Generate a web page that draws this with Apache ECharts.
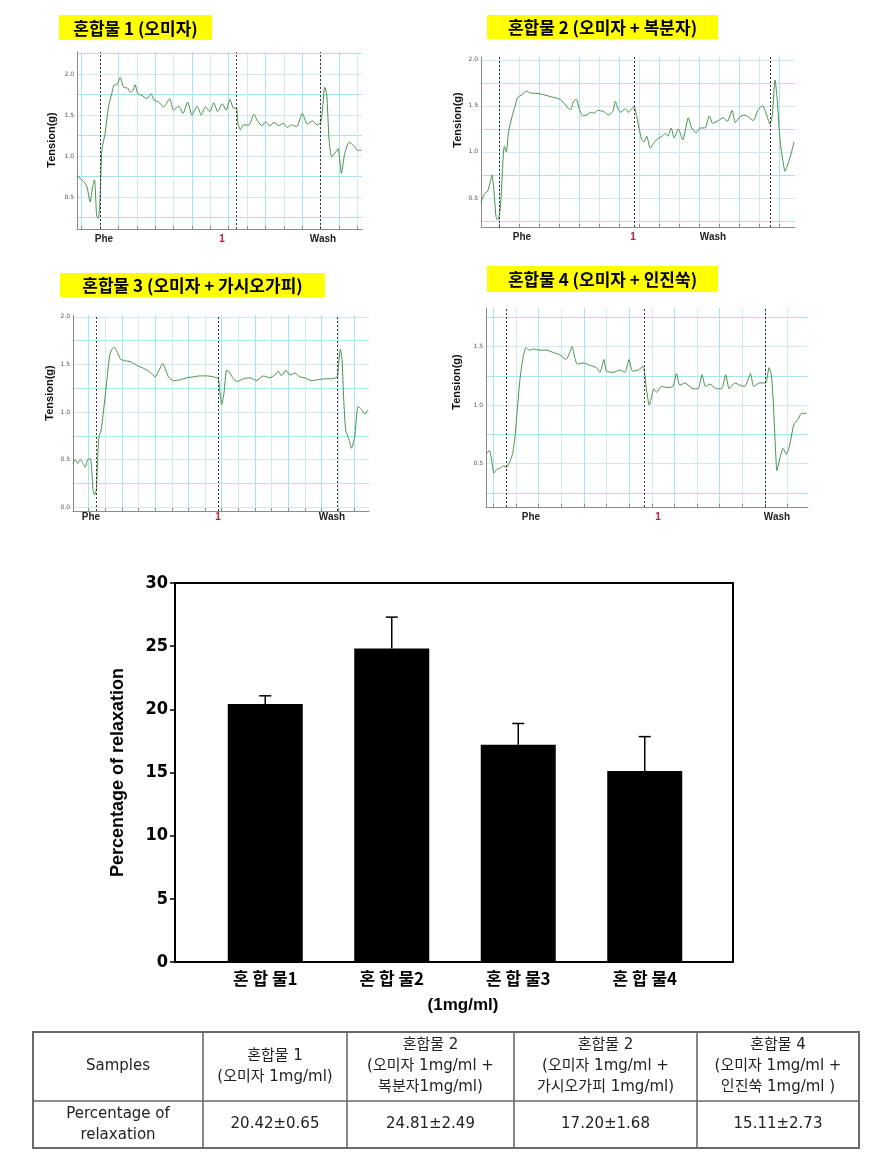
<!DOCTYPE html>
<html><head><meta charset="utf-8">
<script src="https://cdn.jsdelivr.net/npm/echarts@6/dist/echarts.min.js"></script>
<style>html,body{margin:0;padding:0;background:#fff}#c{width:883px;height:1173px}</style>
</head><body><div id="c"></div>
<script>
// ---------------- DATA ----------------
const traceTitles = ['혼합물 1 (오미자)', '혼합물 2 (오미자 + 복분자)', '혼합물 3 (오미자 + 가시오가피)', '혼합물 4 (오미자 + 인진쑥)'];
const eventLabels = ['Phe', '1', 'Wash'];
const tensionName = 'Tension(g)';

const trace1 = [[0,0.77],[0.25,0.71],[0.44,0.67],[0.56,0.61],[0.71,0.44],[0.85,0.63],[0.95,0.71],[1.07,0.27],[1.16,0.24],[1.25,0.46],[1.35,1.07],[1.53,1.28],[1.71,1.60],[1.89,1.76],[2.02,1.87],[2.16,1.87],[2.35,1.96],[2.53,1.84],[2.75,1.83],[2.89,1.78],[3.04,1.80],[3.16,1.87],[3.31,1.76],[3.53,1.74],[3.80,1.70],[4.02,1.76],[4.20,1.68],[4.44,1.66],[4.71,1.60],[5.04,1.70],[5.25,1.56],[5.53,1.61],[5.76,1.52],[6.02,1.66],[6.25,1.50],[6.53,1.61],[6.76,1.50],[6.98,1.60],[7.22,1.54],[7.44,1.65],[7.65,1.54],[7.89,1.64],[8.11,1.56],[8.31,1.69],[8.53,1.58],[8.67,1.59],[8.75,1.40],[8.89,1.32],[9.04,1.38],[9.35,1.38],[9.62,1.51],[9.84,1.42],[10.07,1.37],[10.25,1.42],[10.49,1.37],[10.71,1.41],[10.98,1.37],[11.20,1.40],[11.44,1.35],[11.65,1.38],[11.95,1.36],[12.25,1.52],[12.53,1.39],[12.80,1.43],[13.07,1.38],[13.25,1.41],[13.35,1.56],[13.47,1.84],[13.58,1.76],[13.71,1.20],[13.85,0.99],[14.07,1.05],[14.20,1.09],[14.38,0.79],[14.56,1.03],[14.80,1.17],[15.04,1.13],[15.25,1.07],[15.47,1.07]];
const trace2 = [[0,0.45],[0.10,0.51],[0.22,0.56],[0.33,0.57],[0.47,0.68],[0.55,0.75],[0.63,0.62],[0.75,0.30],[0.83,0.26],[0.93,0.33],[1.00,0.48],[1.10,0.91],[1.17,1.06],[1.27,1.00],[1.38,1.22],[1.55,1.38],[1.72,1.51],[1.83,1.59],[2.05,1.62],[2.27,1.66],[2.47,1.64],[2.97,1.63],[3.47,1.60],[3.97,1.57],[4.38,1.47],[4.50,1.46],[4.63,1.55],[4.77,1.57],[4.93,1.46],[5.10,1.39],[5.30,1.40],[5.50,1.43],[5.67,1.42],[5.83,1.45],[6.13,1.44],[6.38,1.40],[6.60,1.44],[6.73,1.55],[6.85,1.47],[7.00,1.43],[7.22,1.47],[7.38,1.43],[7.55,1.47],[7.67,1.49],[7.80,1.38],[7.93,1.24],[8.05,1.13],[8.17,1.11],[8.30,1.17],[8.47,1.04],[8.63,1.09],[8.83,1.14],[9.05,1.17],[9.22,1.20],[9.35,1.17],[9.52,1.26],[9.67,1.15],[9.88,1.25],[10.10,1.13],[10.38,1.37],[10.55,1.26],[10.77,1.21],[10.97,1.26],[11.22,1.26],[11.43,1.39],[11.60,1.31],[11.88,1.34],[12.13,1.37],[12.33,1.33],[12.57,1.45],[12.73,1.32],[12.97,1.38],[13.17,1.40],[13.38,1.38],[13.63,1.34],[13.88,1.46],[14.10,1.50],[14.30,1.40],[14.47,1.30],[14.58,1.40],[14.72,1.78],[14.83,1.57],[14.97,1.13],[15.13,0.88],[15.22,0.79],[15.38,0.88],[15.55,1.00],[15.67,1.11]];
const trace3 = [[0,0.46],[0.14,0.50],[0.28,0.46],[0.44,0.50],[0.60,0.46],[0.74,0.42],[0.88,0.50],[1.04,0.51],[1.14,0.36],[1.20,0.18],[1.30,0.13],[1.40,0.18],[1.48,0.50],[1.56,0.74],[1.68,0.80],[1.84,1.02],[2.04,1.34],[2.20,1.59],[2.34,1.66],[2.48,1.68],[2.64,1.64],[2.84,1.56],[3.08,1.54],[3.44,1.53],[3.84,1.49],[4.24,1.46],[4.64,1.42],[4.94,1.37],[5.20,1.45],[5.40,1.51],[5.54,1.46],[5.74,1.37],[6.04,1.33],[6.44,1.34],[6.84,1.36],[7.24,1.37],[7.64,1.38],[8.04,1.38],[8.44,1.37],[8.74,1.35],[8.84,1.20],[8.94,1.08],[9.08,1.20],[9.24,1.44],[9.44,1.41],[9.64,1.35],[9.88,1.32],[10.24,1.35],[10.64,1.36],[11.04,1.33],[11.44,1.38],[11.84,1.36],[12.14,1.39],[12.34,1.43],[12.54,1.38],[12.80,1.44],[13.04,1.39],[13.34,1.41],[13.64,1.37],[13.94,1.36],[14.34,1.33],[14.74,1.34],[15.14,1.35],[15.54,1.35],[15.88,1.37],[15.96,1.49],[16.08,1.66],[16.18,1.55],[16.28,1.13],[16.40,0.81],[16.60,0.71],[16.74,0.62],[16.94,0.74],[17.14,1.06],[17.34,1.03],[17.54,0.98],[17.74,1.02]];
const trace4 = [[0.03,0.59],[0.15,0.61],[0.25,0.53],[0.35,0.42],[0.47,0.45],[0.62,0.46],[0.76,0.48],[0.91,0.47],[1.06,0.52],[1.18,0.59],[1.28,0.73],[1.38,0.96],[1.50,1.22],[1.62,1.39],[1.76,1.49],[1.91,1.47],[2.09,1.48],[2.38,1.47],[2.68,1.47],[2.97,1.45],[3.26,1.43],[3.53,1.39],[3.68,1.44],[3.79,1.50],[3.93,1.40],[4.03,1.35],[4.29,1.36],[4.59,1.34],[4.88,1.32],[5.03,1.28],[5.21,1.39],[5.32,1.29],[5.62,1.28],[5.91,1.30],[6.13,1.28],[6.32,1.39],[6.47,1.29],[6.72,1.30],[6.94,1.33],[7.01,1.26],[7.09,1.13],[7.21,1.00],[7.31,1.07],[7.41,1.14],[7.53,1.11],[7.75,1.16],[8.04,1.15],[8.26,1.16],[8.41,1.27],[8.56,1.17],[8.78,1.19],[9.15,1.14],[9.37,1.14],[9.54,1.26],[9.69,1.16],[9.88,1.18],[10.18,1.14],[10.40,1.14],[10.59,1.26],[10.74,1.14],[10.99,1.19],[11.21,1.17],[11.43,1.16],[11.68,1.27],[11.82,1.16],[12.09,1.19],[12.35,1.19],[12.50,1.32],[12.60,1.26],[12.68,1.05],[12.76,0.73],[12.85,0.44],[12.97,0.54],[13.12,0.63],[13.26,0.58],[13.41,0.66],[13.59,0.83],[13.78,0.88],[13.93,0.93],[14.15,0.93]];

const events1 = [1.25, 8.65, 13.25];
const events2 = [0.93, 7.68, 14.5];
const events3 = [1.38, 8.74, 15.88];
const events4 = [0.91, 6.99, 12.34];

const yLabels1 = [0.5, 1.0, 1.5, 2.0];
const yLabels2 = [0.5, 1.0, 1.5, 2.0];
const yLabels3 = [0.0, 0.5, 1.0, 1.5, 2.0];
const yLabels4 = [0.5, 1.0, 1.5];

const barCategories = ['혼 합 물1', '혼 합 물2', '혼 합 물3', '혼 합 물4'];
const relaxMean = [20.42, 24.81, 17.20, 15.11];
const relaxErr = [0.65, 2.49, 1.68, 2.73];
const barYTicks = [0, 5, 10, 15, 20, 25, 30];
const barYName = 'Percentage of relaxation';
const barXName = '(1mg/ml)';

const tableRowNames = ['Samples', 'Percentage of\nrelaxation'];
const tableHeaders = ['혼합물 1\n(오미자 1mg/ml)', '혼합물 2\n(오미자 1mg/ml +\n복분자1mg/ml)', '혼합물 2\n(오미자 1mg/ml +\n가시오가피 1mg/ml)', '혼합물 4\n(오미자 1mg/ml +\n인진쑥 1mg/ml )'];

// ---------------- LAYOUT ----------------
const panels = [
  {data: trace1, events: events1, yLabels: yLabels1, box: [77, 52, 285, 177], yMin: 0.11, yMax: 2.27, xMax: 15.5, xOff: 0.25,
   titleBox: [59, 15, 153, 25], nameXY: [52, 140], labelY: 239, labelX: [104, 222, 323]},
  {data: trace2, events: events2, yLabels: yLabels2, box: [481, 57, 314, 170], yMin: 0.185, yMax: 2.03, xMax: 15.72, xOff: 0.93,
   titleBox: [487, 15, 231, 24], nameXY: [458, 120], labelY: 237, labelX: [522, 633, 713]},
  {data: trace3, events: events3, yLabels: yLabels3, box: [73, 315, 296, 196], yMin: -0.04, yMax: 2.02, xMax: 17.8, xOff: 0.94,
   titleBox: [60, 273, 265, 24], nameXY: [50, 393], labelY: 517, labelX: [91, 218, 332]},
  {data: trace4, events: events4, yLabels: yLabels4, box: [486, 308, 322, 199], yMin: 0.13, yMax: 1.83, xMax: 14.22, xOff: 0.32,
   titleBox: [487, 266, 231, 26], nameXY: [457, 382], labelY: 517, labelX: [531, 658, 777]}
];

const BRIGHT = '#a6e6ee', LIGHT = '#d3e9ee';
function steps(start, end, step) { const a = []; for (let k = 0; start + k * step <= end + 1e-9; k++) a.push(+(start + k * step).toFixed(4)); return a; }

const grids = [], xAxes = [], yAxes = [], series = [], graphics = [];

panels.forEach((p, i) => {
  grids.push({left: p.box[0], top: p.box[1], width: p.box[2], height: p.box[3]});
  const yStart = Math.ceil(p.yMin / 0.25 - 1e-6) * 0.25;
  const yGrid = steps(yStart, p.yMax, 0.25);
  const firstHalf = Math.abs(yGrid[0] / 0.5 - Math.round(yGrid[0] / 0.5)) < 1e-6;
  const xGrid = steps(p.xOff, p.xMax, 1);
  xAxes.push({
    type: 'value', gridIndex: i, min: 0, max: p.xMax,
    axisLine: {show: true, onZero: false, lineStyle: {color: '#8c8c8c', width: 1}},
    axisTick: {show: true, inside: true, length: 3, customValues: xGrid, lineStyle: {color: '#8c8c8c'}},
    axisLabel: {show: false},
    splitLine: {show: true, lineStyle: {color: [BRIGHT, LIGHT], width: 1}}
  });
  yAxes.push({
    type: 'value', gridIndex: i, min: p.yMin, max: p.yMax,
    axisLine: {show: true, onZero: false, lineStyle: {color: '#8c8c8c', width: 1}},
    axisTick: {show: true, length: 0, customValues: yGrid},
    axisLabel: {show: true, customValues: p.yLabels, formatter: v => (+v).toFixed(1), fontSize: 6, color: '#555', margin: 3, fontFamily: 'DejaVu Sans'},
    splitLine: {show: true, lineStyle: {color: firstHalf ? [LIGHT, BRIGHT] : [BRIGHT, LIGHT], width: 1}}
  });
  series.push({
    type: 'line', xAxisIndex: i, yAxisIndex: i, data: p.data, symbol: 'none', smooth: 0.2,
    lineStyle: {color: '#46924c', width: 1}, z: 3,
    markLine: {silent: true, symbol: 'none', label: {show: false}, animation: false,
      lineStyle: {color: '#333', type: [2, 2], width: 1}, data: p.events.map(e => ({xAxis: e}))}
  });
  const tb = p.titleBox;
  graphics.push({type: 'rect', shape: {x: tb[0], y: tb[1], width: tb[2], height: tb[3]}, style: {fill: '#ffff00'}, z: 10});
  graphics.push({type: 'text', x: tb[0] + tb[2] / 2, y: tb[1] + tb[3] / 2 + 1, z: 11,
    style: {text: traceTitles[i], align: 'center', verticalAlign: 'middle', font: 'bold 17px "Noto Sans CJK KR", "Liberation Sans"', fill: '#000'}});
  graphics.push({type: 'text', x: p.nameXY[0], y: p.nameXY[1], rotation: Math.PI / 2, z: 11,
    style: {text: tensionName, align: 'center', verticalAlign: 'middle', font: 'bold 11px "Liberation Sans", Arial', fill: '#111'}});
  eventLabels.forEach((t, k) => {
    graphics.push({type: 'text', x: p.labelX[k], y: p.labelY, z: 11,
      style: {text: t, align: 'center', verticalAlign: 'middle', font: 'bold 10px "Liberation Sans", Arial', fill: k === 1 ? '#b3203a' : '#222'}});
  });
});

// ---- bar chart: frame grid (4) and bar grid (5)
grids.push({left: 175, top: 583, width: 558, height: 379});
grids.push({left: 202, top: 583, width: 506, height: 379});
const frameLine = {show: true, onZero: false, lineStyle: {color: '#000', width: 2}};
xAxes.push({type: 'value', gridIndex: 4, min: 0, max: 1, axisLine: frameLine, axisTick: {show: false}, axisLabel: {show: false}, splitLine: {show: false}});
xAxes.push({type: 'value', gridIndex: 4, position: 'top', min: 0, max: 1, axisLine: frameLine, axisTick: {show: false}, axisLabel: {show: false}, splitLine: {show: false}});
yAxes.push({type: 'value', gridIndex: 4, min: barYTicks[0], max: barYTicks[barYTicks.length - 1], interval: barYTicks[1] - barYTicks[0],
  axisLine: frameLine, axisTick: {show: true, length: 5, lineStyle: {color: '#000', width: 1.5}},
  axisLabel: {fontSize: 18, fontWeight: 'bold', color: '#000', margin: 7, fontFamily: '"Liberation Sans Narrow", "DejaVu Sans Condensed", sans-serif'},
  splitLine: {show: false},
  name: barYName, nameLocation: 'middle', nameGap: 48,
  nameTextStyle: {fontSize: 18, fontWeight: 'bold', color: '#000', fontFamily: '"Liberation Sans", Arial'}});
yAxes.push({type: 'value', gridIndex: 4, position: 'right', min: 0, max: 30, axisLine: frameLine, axisTick: {show: false}, axisLabel: {show: false}, splitLine: {show: false}});
xAxes.push({type: 'category', gridIndex: 5, data: barCategories, axisLine: {show: false}, axisTick: {show: false},
  axisLabel: {fontSize: 17, fontWeight: 'bold', color: '#000', margin: 8, fontFamily: '"Noto Sans CJK KR"'}});
yAxes.push({type: 'value', gridIndex: 5, min: 0, max: 30, show: false});

series.push({type: 'bar', xAxisIndex: 6, yAxisIndex: 6, data: relaxMean, barWidth: 75, itemStyle: {color: '#000'}, z: 2});
series.push({
  type: 'custom', xAxisIndex: 6, yAxisIndex: 6, z: 3,
  data: relaxMean.map((m, i) => [i, m, m + relaxErr[i]]),
  renderItem: (params, api) => {
    const base = api.coord([api.value(0), api.value(1)]);
    const top = api.coord([api.value(0), api.value(2)]);
    const st = {stroke: '#000', lineWidth: 1.5};
    return {type: 'group', children: [
      {type: 'line', shape: {x1: base[0], y1: base[1], x2: top[0], y2: top[1]}, style: st},
      {type: 'line', shape: {x1: top[0] - 6, y1: top[1], x2: top[0] + 6, y2: top[1]}, style: st}
    ]};
  }
});
graphics.push({type: 'text', x: 463, y: 1005, style: {text: barXName, align: 'center', verticalAlign: 'middle', font: 'bold 17px "Liberation Sans", Arial', fill: '#000'}});

// ---- table
const colX = [33, 203, 347, 514, 697, 859];
const rowY = [1032, 1101, 1148];
const tStroke = {stroke: '#6a6a6a', lineWidth: 1.6};
graphics.push({type: 'rect', shape: {x: colX[0], y: rowY[0], width: colX[5] - colX[0], height: rowY[2] - rowY[0]}, style: {fill: 'none', stroke: '#6a6a6a', lineWidth: 2}});
for (let c = 1; c < 5; c++) graphics.push({type: 'line', shape: {x1: colX[c], y1: rowY[0], x2: colX[c], y2: rowY[2]}, style: tStroke});
graphics.push({type: 'line', shape: {x1: colX[0], y1: rowY[1], x2: colX[5], y2: rowY[1]}, style: tStroke});
const tFont = '15px "DejaVu Sans", "Noto Sans CJK KR", sans-serif';
function cellText(txt, c, r) {
  graphics.push({type: 'text', x: (colX[c] + colX[c + 1]) / 2, y: (rowY[r] + rowY[r + 1]) / 2,
    style: {text: txt, align: 'center', verticalAlign: 'middle', font: tFont, fill: '#222', lineHeight: 21}});
}
cellText(tableRowNames[0], 0, 0);
cellText(tableRowNames[1], 0, 1);
tableHeaders.forEach((h, i) => cellText(h, i + 1, 0));
relaxMean.forEach((m, i) => cellText(m.toFixed(2) + '±' + relaxErr[i].toFixed(2), i + 1, 1));

const chart = echarts.init(document.getElementById('c'));
chart.setOption({
  backgroundColor: '#fff',
  animation: false,
  grid: grids, xAxis: xAxes, yAxis: yAxes, series: series, graphic: graphics
});
</script></body></html>
